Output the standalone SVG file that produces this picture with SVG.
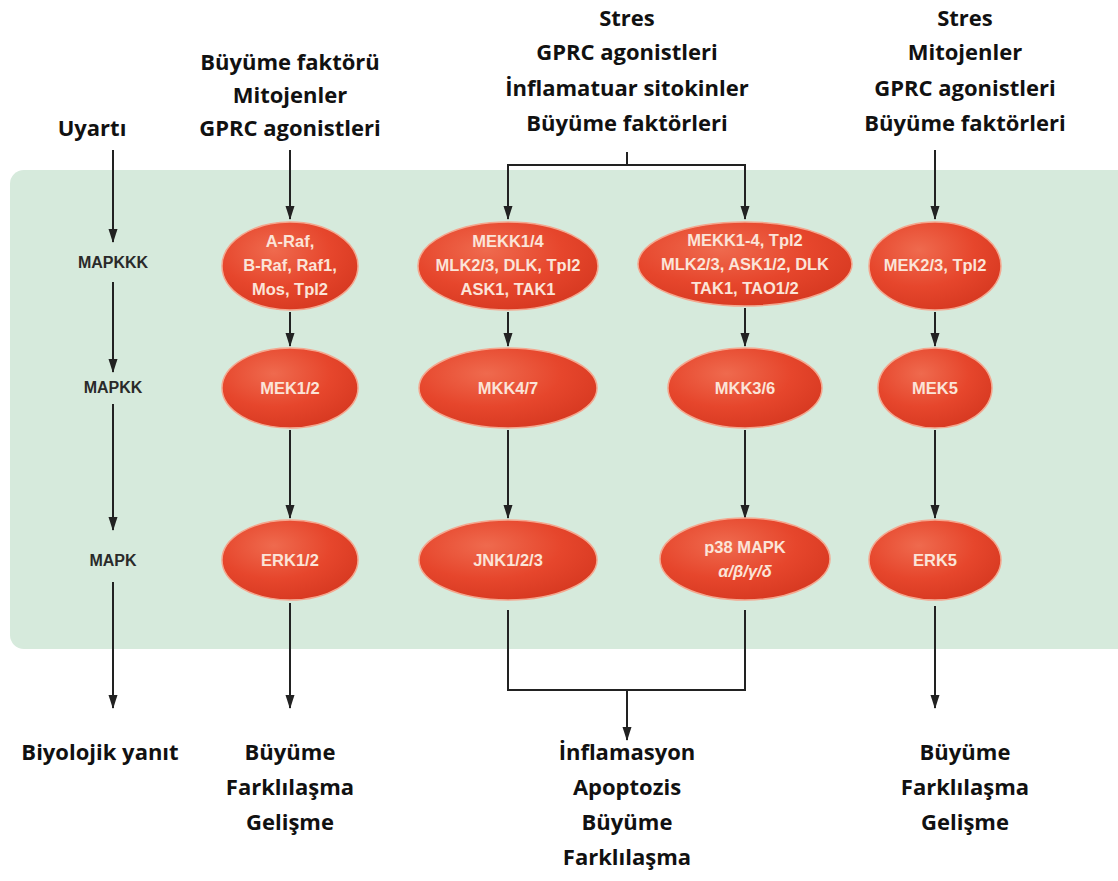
<svg xmlns="http://www.w3.org/2000/svg" width="1118" height="881" viewBox="0 0 1118 881">
<defs>
<radialGradient id="eg" cx="38%" cy="32%" r="70%">
<stop offset="0" stop-color="#ef6a4e"/>
<stop offset="0.6" stop-color="#e6462c"/>
<stop offset="1" stop-color="#d83a22"/>
</radialGradient>
<marker id="ah" viewBox="0 0 14 10" refX="13" refY="5" markerWidth="14" markerHeight="10" markerUnits="userSpaceOnUse" orient="auto">
<path d="M0,0.5 L14,5 L0,9.5 Z" fill="#222"/>
</marker>
<style>
.t{font-family:"Open Sans","Noto Sans",sans-serif;font-weight:bold;font-size:22px;fill:#111;text-anchor:middle}
.lv{font-family:"Liberation Sans",Arial,sans-serif;font-weight:bold;font-size:16px;fill:#2a2a2a;text-anchor:middle}
.e{fill:url(#eg);stroke:#f4a78f;stroke-width:1.5}
.et{font-family:"Liberation Sans",Arial,sans-serif;font-weight:bold;font-size:16.5px;fill:#fbe4d8;text-anchor:middle}
.c{fill:none;stroke:#222;stroke-width:2}
.a{marker-end:url(#ah)}
</style>
</defs>
<rect x="0" y="0" width="1118" height="881" fill="#ffffff"/>
<rect x="10" y="170" width="1130" height="479" rx="14" fill="#d6eadc"/>

<g id="labels">
<text class="t" x="92" y="136">Uyartı</text>
<text class="t" x="290" y="70">Büyüme faktörü</text>
<text class="t" x="290" y="103">Mitojenler</text>
<text class="t" x="290" y="136">GPRC agonistleri</text>
<text class="t" x="627" y="26">Stres</text>
<text class="t" x="627" y="60">GPRC agonistleri</text>
<text class="t" x="627" y="96">İnflamatuar sitokinler</text>
<text class="t" x="627" y="131">Büyüme faktörleri</text>
<text class="t" x="965" y="26">Stres</text>
<text class="t" x="965" y="60">Mitojenler</text>
<text class="t" x="965" y="96">GPRC agonistleri</text>
<text class="t" x="965" y="131">Büyüme faktörleri</text>
<text class="lv" x="113" y="268">MAPKKK</text>
<text class="lv" x="113" y="393">MAPKK</text>
<text class="lv" x="113" y="566">MAPK</text>
<text class="t" x="100" y="760">Biyolojik yanıt</text>
<text class="t" x="290" y="760">Büyüme</text>
<text class="t" x="290" y="795">Farklılaşma</text>
<text class="t" x="290" y="830">Gelişme</text>
<text class="t" x="627" y="760">İnflamasyon</text>
<text class="t" x="627" y="795">Apoptozis</text>
<text class="t" x="627" y="830">Büyüme</text>
<text class="t" x="627" y="865">Farklılaşma</text>
<text class="t" x="965" y="760">Büyüme</text>
<text class="t" x="965" y="795">Farklılaşma</text>
<text class="t" x="965" y="830">Gelişme</text>
</g>

<g id="connectors">
<line class="c a" x1="113" y1="150" x2="113" y2="242"/>
<line class="c a" x1="113" y1="282" x2="113" y2="372"/>
<line class="c a" x1="113" y1="404" x2="113" y2="530"/>
<line class="c a" x1="113" y1="582" x2="113" y2="708"/>
<line class="c a" x1="290" y1="150" x2="290" y2="219"/>
<line class="c a" x1="290" y1="312" x2="290" y2="346"/>
<line class="c a" x1="290" y1="430" x2="290" y2="518"/>
<line class="c a" x1="290" y1="603" x2="290" y2="708"/>
<polyline class="c" points="627,152 627,165"/>
<polyline class="c a" points="627,165 508,165 508,219"/>
<polyline class="c a" points="627,165 745,165 745,219"/>
<line class="c a" x1="508" y1="312" x2="508" y2="346"/>
<line class="c a" x1="508" y1="430" x2="508" y2="518"/>
<line class="c a" x1="745" y1="308" x2="745" y2="346"/>
<line class="c a" x1="745" y1="430" x2="745" y2="518"/>
<polyline class="c" points="508,610 508,690 745,690 745,610"/>
<line class="c a" x1="627" y1="690" x2="627" y2="740"/>
<line class="c a" x1="935" y1="150" x2="935" y2="219"/>
<line class="c a" x1="935" y1="312" x2="935" y2="346"/>
<line class="c a" x1="935" y1="430" x2="935" y2="518"/>
<line class="c a" x1="935" y1="606" x2="935" y2="708"/>
</g>

<g id="n-araf"><ellipse class="e" cx="290" cy="266" rx="68" ry="44"/>
<text class="et" x="290" y="247">A-Raf,</text><text class="et" x="290" y="271">B-Raf, Raf1,</text><text class="et" x="290" y="295">Mos, Tpl2</text></g>
<g id="n-mekk14"><ellipse class="e" cx="508" cy="266" rx="90" ry="44"/>
<text class="et" x="508" y="247">MEKK1/4</text><text class="et" x="508" y="271">MLK2/3, DLK, Tpl2</text><text class="et" x="508" y="295">ASK1, TAK1</text></g>
<g id="n-mekk1-4"><ellipse class="e" cx="745" cy="264" rx="107" ry="42"/>
<text class="et" x="745" y="246">MEKK1-4, Tpl2</text><text class="et" x="745" y="270">MLK2/3, ASK1/2, DLK</text><text class="et" x="745" y="294">TAK1, TAO1/2</text></g>
<g id="n-mek23"><ellipse class="e" cx="935" cy="266" rx="66" ry="44"/>
<text class="et" x="935" y="271">MEK2/3, Tpl2</text></g>

<g id="n-mek12"><ellipse class="e" cx="290" cy="388" rx="68" ry="40"/><text class="et" x="290" y="394">MEK1/2</text></g>
<g id="n-mkk47"><ellipse class="e" cx="508" cy="388" rx="89" ry="40"/><text class="et" x="508" y="394">MKK4/7</text></g>
<g id="n-mkk36"><ellipse class="e" cx="745" cy="388" rx="77" ry="40"/><text class="et" x="745" y="394">MKK3/6</text></g>
<g id="n-mek5"><ellipse class="e" cx="935" cy="388" rx="57" ry="40"/><text class="et" x="935" y="394">MEK5</text></g>

<g id="n-erk12"><ellipse class="e" cx="290" cy="560" rx="68" ry="40"/><text class="et" x="290" y="566">ERK1/2</text></g>
<g id="n-jnk"><ellipse class="e" cx="508" cy="560" rx="89" ry="40"/><text class="et" x="508" y="566">JNK1/2/3</text></g>
<g id="n-p38"><ellipse class="e" cx="745" cy="559" rx="85" ry="41"/><text class="et" x="745" y="553">p38 MAPK</text><text class="et" x="745" y="577" font-style="italic" font-weight="normal" font-family="Liberation Serif,serif">α/β/γ/δ</text></g>
<g id="n-erk5"><ellipse class="e" cx="935" cy="560" rx="66" ry="40"/><text class="et" x="935" y="566">ERK5</text></g>
</svg>
